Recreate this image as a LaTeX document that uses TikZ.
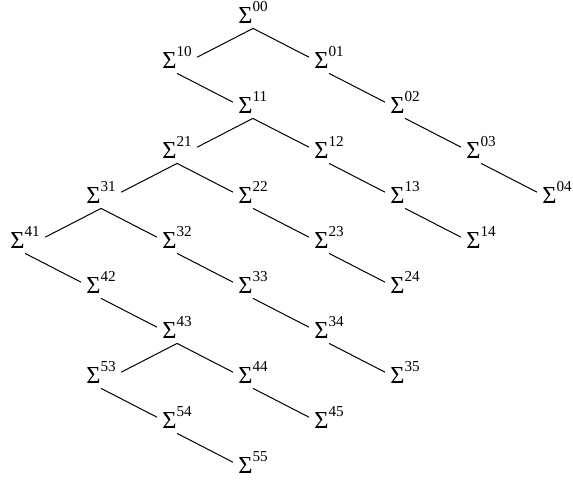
\documentclass[tikz,border=0pt]{standalone}
\usepackage{fontspec}
\setmainfont{Liberation Serif}
\usepackage{tikz}
\newcommand\sigidx[1]{Σ\raisebox{5.8pt}{\fontsize{7.6}{8}\selectfont #1}}

\begin{document}
\begin{tikzpicture}[x=38pt,y=-22.5pt,font=\fontsize{12.2}{14}\selectfont,
  sg/.style={inner sep=2.5pt,anchor=base west},
  ln/.style={line width=0.5pt}]
  \useasboundingbox (-119pt,11.5pt) rectangle (167.5pt,-230.5pt);
  % index ij / column / level
  \foreach \i/\j/\c/\l in {0/0/0/0,1/0/-1/1,0/1/1/1,1/1/0/2,0/2/2/2,
      2/1/-1/3,1/2/1/3,0/3/3/3,3/1/-2/4,2/2/0/4,1/3/2/4,0/4/4/4,
      4/1/-3/5,3/2/-1/5,2/3/1/5,1/4/3/5,4/2/-2/6,3/3/0/6,2/4/2/6,
      4/3/-1/7,3/4/1/7,5/3/-2/8,4/4/0/8,3/5/2/8,5/4/-1/9,4/5/1/9,
      5/5/0/10}
    \node[sg] (s\i\j) at ([xshift=-2.5pt]\c,\l) {\sigidx{\i\j}};

  % children to the left
  \foreach \p/\q in {00/10,11/21,21/31,31/41,43/53}
    \draw[ln] (s\p.south) -- (s\q.east);
  % children to the right
  \foreach \p/\q in {00/01,10/11,01/02,11/12,02/03,21/22,12/13,03/04,
      31/32,22/23,13/14,41/42,32/33,23/24,42/43,33/34,43/44,34/35,
      53/54,44/45,54/55}
    \draw[ln] (s\p.south) -- (s\q.west);
\end{tikzpicture}
\end{document}
